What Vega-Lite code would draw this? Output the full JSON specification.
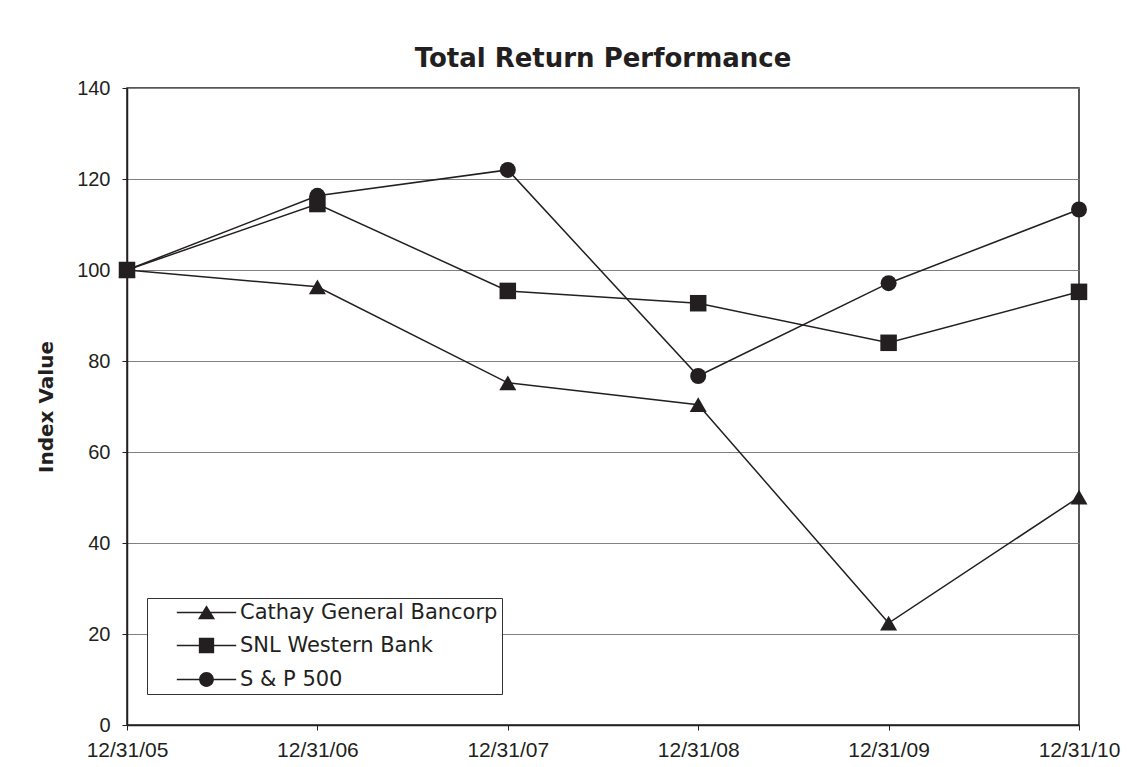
{
  "$schema": "https://vega.github.io/schema/vega-lite/v6.json",
  "width": 952,
  "height": 637,
  "autosize": "none",
  "padding": {"left": 127, "top": 88, "right": 49, "bottom": 42},
  "background": "white",
  "title": {
    "text": "Total Return Performance",
    "font": "DejaVu Sans",
    "fontSize": 26,
    "fontWeight": "bold",
    "color": "#231f20",
    "anchor": "middle",
    "baseline": "alphabetic",
    "offset": -15
  },
  "data": {
    "values": [
      {"date": "12/31/05", "series": "Cathay General Bancorp", "value": 100},
      {"date": "12/31/06", "series": "Cathay General Bancorp", "value": 96.3},
      {"date": "12/31/07", "series": "Cathay General Bancorp", "value": 75.2},
      {"date": "12/31/08", "series": "Cathay General Bancorp", "value": 70.4},
      {"date": "12/31/09", "series": "Cathay General Bancorp", "value": 22.4},
      {"date": "12/31/10", "series": "Cathay General Bancorp", "value": 50.1},
      {"date": "12/31/05", "series": "SNL Western Bank", "value": 100},
      {"date": "12/31/06", "series": "SNL Western Bank", "value": 114.5},
      {"date": "12/31/07", "series": "SNL Western Bank", "value": 95.4},
      {"date": "12/31/08", "series": "SNL Western Bank", "value": 92.7},
      {"date": "12/31/09", "series": "SNL Western Bank", "value": 84.0},
      {"date": "12/31/10", "series": "SNL Western Bank", "value": 95.2},
      {"date": "12/31/05", "series": "S & P 500", "value": 100},
      {"date": "12/31/06", "series": "S & P 500", "value": 116.3},
      {"date": "12/31/07", "series": "S & P 500", "value": 122.0},
      {"date": "12/31/08", "series": "S & P 500", "value": 76.7},
      {"date": "12/31/09", "series": "S & P 500", "value": 97.1},
      {"date": "12/31/10", "series": "S & P 500", "value": 113.3}
    ]
  },
  "encoding": {
    "x": {
      "field": "date",
      "type": "ordinal",
      "scale": {"type": "point", "padding": 0},
      "axis": {
        "title": null,
        "labelAngle": 0,
        "labelFont": "Liberation Sans",
        "labelFontSize": 21,
        "labelColor": "#231f20",
        "labelPadding": 9,
        "tickSize": 5,
        "tickColor": "#231f20",
        "domainColor": "#231f20",
        "domainWidth": 1.5,
        "grid": false
      }
    },
    "y": {
      "field": "value",
      "type": "quantitative",
      "scale": {"domain": [0, 140], "nice": false, "zero": true},
      "axis": {
        "values": [0, 20, 40, 60, 80, 100, 120, 140],
        "grid": true,
        "gridColor": "#808080",
        "gridWidth": 1,
        "domainColor": "#231f20",
        "domainWidth": 1.5,
        "tickColor": "#231f20",
        "tickSize": 5,
        "labelPadding": 12,
        "labelFont": "Liberation Sans",
        "labelFontSize": 20,
        "labelColor": "#231f20",
        "title": "Index Value",
        "titleFont": "DejaVu Sans",
        "titleFontSize": 20,
        "titleFontWeight": "bold",
        "titleColor": "#231f20",
        "titlePadding": 20
      }
    }
  },
  "layer": [
    {
      "mark": {"type": "line", "color": "#231f20", "strokeWidth": 1.5},
      "encoding": {"detail": {"field": "series"}}
    },
    {
      "mark": {"type": "point", "filled": true, "opacity": 1, "color": "#231f20"},
      "encoding": {
        "shape": {
          "field": "series",
          "scale": {
            "domain": ["Cathay General Bancorp", "SNL Western Bank", "S & P 500"],
            "range": ["triangle-up", "square", "circle"]
          },
          "legend": null
        },
        "size": {
          "field": "series",
          "scale": {
            "domain": ["Cathay General Bancorp", "SNL Western Bank", "S & P 500"],
            "range": [290, 256, 225]
          },
          "legend": null
        }
      }
    },
    {
      "transform": [{"filter": {"field": "value", "lt": -1}}],
      "mark": {
        "type": "point",
        "filled": true,
        "opacity": 1,
        "color": "#231f20",
        "size": 324
      },
      "encoding": {
        "shape": {
          "field": "series",
          "scale": {
            "domain": ["Cathay General Bancorp", "SNL Western Bank", "S & P 500"],
            "range": [
              "M-3.3,-0.085H3.3V0.085H-3.3ZM0,-0.8L0.95,0.75L-0.95,0.75Z",
              "M-3.3,-0.085H3.3V0.085H-3.3ZM-0.85,-0.85H0.85V0.85H-0.85Z",
              "M-3.3,-0.085H3.3V0.085H-3.3ZM0.82,0A0.82,0.82,0,1,1,-0.82,0A0.82,0.82,0,1,1,0.82,0Z"
            ]
          },
          "legend": {
            "title": null,
            "orient": "none",
            "legendX": 20,
            "legendY": 510,
            "padding": 4,
            "strokeColor": "#333333",
            "fillColor": "white",
            "symbolOffset": 45,
            "labelOffset": 23,
            "labelFont": "DejaVu Sans",
            "labelFontSize": 21,
            "labelColor": "#231f20",
            "labelLimit": 500,
            "rowPadding": 11,
            "symbolSize": 324,
            "symbolFillColor": "#231f20",
            "symbolOpacity": 1
          }
        }
      }
    }
  ],
  "resolve": {"scale": {"shape": "independent"}},
  "config": {
    "view": {"stroke": "#231f20", "strokeWidth": 1.5}
  }
}
